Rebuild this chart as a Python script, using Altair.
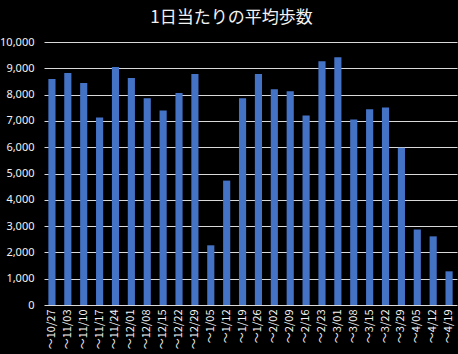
import altair as alt
import pandas as pd

weeks = ["～10/27", "～11/03", "～11/10", "～11/17", "～11/24", "～12/01", "～12/08",
         "～12/15", "～12/22", "～12/29", "～1/05", "～1/12", "～1/19", "～1/26",
         "～2/02", "～2/09", "～2/16", "～2/23", "～3/01", "～3/08", "～3/15",
         "～3/22", "～3/29", "～4/05", "～4/12", "～4/19"]
steps = [8590, 8820, 8440, 7130, 9050, 8630, 7860, 7400, 8060, 8780, 2270, 4730,
         7860, 8780, 8200, 8130, 7210, 9270, 9420, 7050, 7440, 7510, 5980, 2870,
         2610, 1280]

df = pd.DataFrame({"week": weeks, "steps": steps})

chart = alt.Chart(df).mark_bar(color="#4472C4").encode(
    x=alt.X("week:N", sort=weeks, title=None,
            scale=alt.Scale(paddingInner=0.55, paddingOuter=0.275),
            axis=alt.Axis(labelAngle=-90, labelColor="#f2f2f2", labelFontSize=11,
                          labelFont="Noto Sans CJK JP", ticks=False, domain=False,
                          labelPadding=4, labelAlign="right", labelBaseline="middle")),
    y=alt.Y("steps:Q", title=None,
            scale=alt.Scale(domain=[0, 10000]),
            axis=alt.Axis(values=list(range(0, 10001, 1000)), format=",d",
                          labelColor="#f2f2f2", labelFontSize=11, labelFont="Noto Sans",
                          ticks=False, domain=False, labelPadding=10,
                          gridColor="#d9d9d9", gridWidth=1)),
).properties(
    width=413, height=263,
    title=alt.TitleParams("1日当たりの平均歩数", font="Noto Sans CJK JP", fontSize=17,
                          fontWeight="normal", color="#f2f2f2", anchor="middle",
                          offset=9, dx=-19),
    background="black",
    autosize=alt.AutoSizeParams(type="none"),
    padding={"left": 44, "top": 42, "right": 1, "bottom": 49},
).configure_view(stroke=None)

chart.save("out.html", embed_options={"renderer": "svg", "actions": False})
